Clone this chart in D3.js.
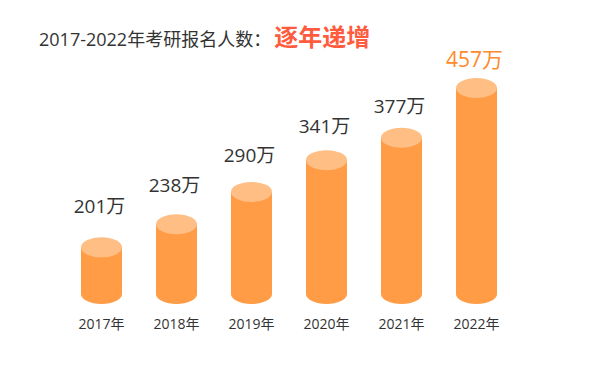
<!DOCTYPE html>
<html><head><meta charset="utf-8">
<script src="https://cdn.jsdelivr.net/npm/d3@7"></script>
<style>body{margin:0;background:#fff}svg{display:block}</style>
</head><body>
<script>
const years = ["2017年","2018年","2019年","2020年","2021年","2022年"];
const values = [201,238,290,341,377,457];
const valueLabels = ["201万","238万","290万","341万","377万","457万"];
const titleMain = "2017-2022年考研报名人数：";
const titleEmph = "逐年递增";

const W = 591, H = 367;
const font = "'Open Sans','Noto Sans CJK SC',sans-serif";
const svg = d3.select("body").append("svg").attr("width",W).attr("height",H);

const x = d3.scalePoint().domain(years).range([101.5,476.5]);
const y = d3.scaleLinear().domain([126,457]).range([294,88]);
const yLabel = d3.scaleLinear().domain([201,457]).range([213,67]);
const bw = 41, rx = bw/2, ry = 10;

const title = svg.append("text").attr("x",39).attr("y",46).attr("font-family",font);
title.append("tspan").attr("font-size",18).attr("fill","#333").text(titleMain);
title.append("tspan").attr("font-size",24).attr("font-weight","bold").attr("fill","#ff5b3e").attr("dx",3)
  .attr("font-family","'Noto Sans CJK SC',sans-serif").text(titleEmph);

const g = svg.selectAll("g.bar").data(years.map((d,i)=>({year:d,v:values[i],lab:valueLabels[i],i})))
  .enter().append("g").attr("class","bar");

g.append("path").attr("fill","#ff9c45").attr("d",d=>{
  const cx = x(d.year), top = y(d.v), base = y.range()[0];
  return `M${cx-rx},${top} L${cx-rx},${base} A${rx},${ry} 0 0 0 ${cx+rx},${base} L${cx+rx},${top} Z`;
});
g.append("ellipse").attr("cx",d=>x(d.year)).attr("cy",d=>y(d.v)).attr("rx",rx).attr("ry",ry).attr("fill","#ffbe84");

g.append("text").attr("x",d=>x(d.year)-2).attr("y",d=>yLabel(d.v))
  .attr("text-anchor","middle").attr("font-family",font)
  .attr("font-size",d=>d.i===years.length-1?21:19)
  .attr("fill",d=>d.i===years.length-1?"#ff8a2b":"#333")
  .text(d=>d.lab);

g.append("text").attr("x",d=>x(d.year)).attr("y",329).attr("text-anchor","middle")
  .attr("font-family",font).attr("font-size",14).attr("fill","#333").text(d=>d.year);
</script>
</body></html>
